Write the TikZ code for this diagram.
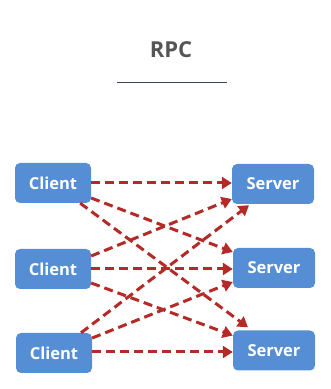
\documentclass[tikz,border=0pt]{standalone}
\usepackage{fontspec}
\setmainfont{Open Sans}
\usetikzlibrary{arrows.meta}
\definecolor{boxblue}{RGB}{86,142,214}
\definecolor{callred}{RGB}{180,42,38}
\definecolor{titlegray}{RGB}{85,85,85}
\definecolor{rulegray}{RGB}{60,72,90}
\tikzset{>={Triangle[length=10pt,width=12pt]}}
\tikzset{
  machine/.style={
    fill=boxblue, rounded corners=5pt, text=white, inner sep=0pt,
    minimum height=40pt, font=\fontsize{16.5}{17}\selectfont\bfseries},
  client/.style={machine, minimum width=76pt},
  server/.style={machine, minimum width=82pt},
  call/.style={->, draw=callred, line width=3pt, dash pattern=on 9pt off 5pt}
}

\begin{document}
\begin{tikzpicture}[x=1pt,y=1pt]
    \useasboundingbox (0,0) rectangle (331,389);
    \node[text=titlegray,font=\fontsize{22}{24}\selectfont\bfseries] (title) at (171,339) {RPC};
    \coordinate (ruleL) at (117,307);
    \coordinate (ruleR) at (227,307);
    \draw[rulegray,line width=0.8pt] (ruleL) -- (ruleR);

    \node[client] (c1) at (53,206) {Client};
    \node[client] (c2) at (53,120) {Client};
    \node[client] (c3) at (54,36) {Client};
    \node[server] (s1) at (273,205) {Server};
    \node[server] (s2) at (274,121) {Server};
    \node[server] (s3) at (274,38.5) {Server};

    % straight across
    \draw[call] (c1.east) -- (c1.east -| s1.west);
    \draw[call] (c2.east) -- (c2.east -| s2.west);
    \draw[call] ([yshift=1]c3.east) -- ([yshift=1]c3.east -| s3.west);
    % downwards
    \draw[call] ([yshift=-15]c1.east) -- ([yshift=16]s2.west);
    \draw[call] ([xshift=-11]c1.south east) -- ([xshift=-26,yshift=3]s3.north);
    \draw[call] ([yshift=-14]c2.east) -- ([yshift=15]s3.west);
    % upwards
    \draw[call] ([yshift=13]c2.east) -- ([yshift=-15]s1.west);
    \draw[call] ([xshift=27]c3.north) -- ([xshift=-24,yshift=-1]s1.south);
    \draw[call] ([yshift=15]c3.east) -- ([yshift=-14]s2.west);
\end{tikzpicture}
\end{document}
